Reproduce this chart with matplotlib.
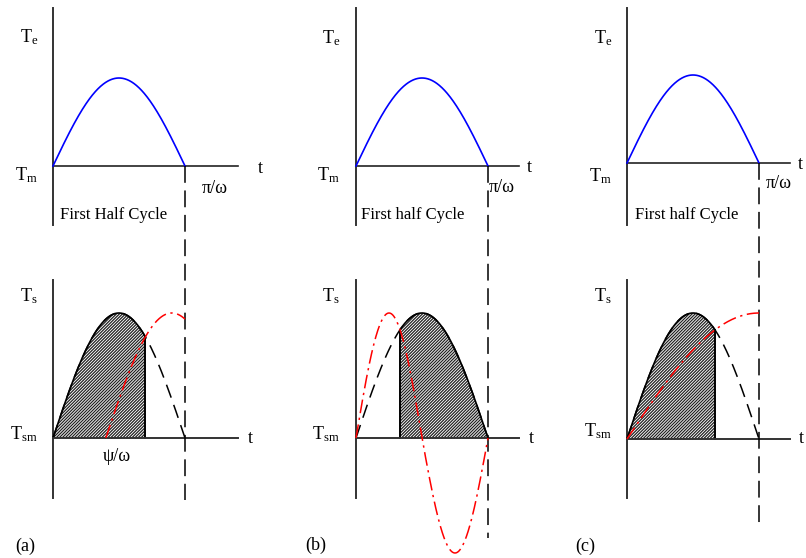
import numpy as np
import matplotlib
matplotlib.use("Agg")
import matplotlib.pyplot as plt
from matplotlib.transforms import Affine2D

plt.rcParams['font.family'] = ['Liberation Serif', 'DejaVu Serif']
plt.rcParams['mathtext.fontset'] = 'custom'
plt.rcParams['mathtext.rm'] = 'Liberation Serif'
plt.rcParams['mathtext.it'] = 'Liberation Serif:italic'
plt.rcParams['hatch.linewidth'] = 0.9

# ---- data (time in units of half-cycles pi/omega, amplitude normalised) ----
panel_labels = ['(a)', '(b)', '(c)']
half_cycle_labels = ['First Half Cycle', 'First half Cycle', 'First half Cycle']
top_y_labels = [r'T$_{\rm e}$', r'T$_{\rm m}$']
bot_y_labels = [r'T$_{\rm s}$', r'T$_{\rm sm}$']
end_label = 'π/ω'
shift_label = 'ψ/ω'
red_freq = [1.0, 2.0, 0.5]        # relative frequency of red curve
red_shift = [0.40, 0.0, 0.0]      # delay of red curve (half-cycles)
red_neg_amp = [1.0, 0.92, 1.0]    # amplitude of negative lobe
shade_from = [0.0, 1/3, 0.0]
shade_to = [0.70, 1.0, 2/3]

# ---- layout (pixels) ----
ox = [53, 356, 627]
top_oy = [166, 166, 163]
bot_oy = [438, 438, 439]
xscale = 132
top_amp = [88, 88, 88]
bot_amp = [125, 125, 126]
haxis_len = [1.40, 1.235, 1.235]
vdash_end = [500, 538, 525]

fig = plt.figure(figsize=(8.06, 5.58), dpi=100)
ax = fig.add_axes([0, 0, 1, 1])
ax.set_xlim(0, 806)
ax.set_ylim(558, 0)
ax.axis('off')

fs = 13
t = np.linspace(0, 1, 400)
for i in range(3):
    Tt = Affine2D().scale(xscale, -top_amp[i]).translate(ox[i], top_oy[i]) + ax.transData
    Tb = Affine2D().scale(xscale, -bot_amp[i]).translate(ox[i], bot_oy[i]) + ax.transData

    # ---- top panel ----
    ax.plot([0, 0], [(top_oy[i] - 8) / top_amp[i], (top_oy[i] - 225) / top_amp[i]],
            color='#333333', lw=1.4, transform=Tt)
    ax.plot([0, haxis_len[i]], [0, 0], color='#222222', lw=1.2, transform=Tt)
    ax.plot(t, np.sin(np.pi * t), color='#0000ff', lw=1.2, transform=Tt)

    # ---- bottom panel ----
    ax.plot([0, 0], [(bot_oy[i] - 280) / bot_amp[i], (bot_oy[i] - 498) / bot_amp[i]],
            color='#333333', lw=1.4, transform=Tb)
    ax.plot([0, haxis_len[i]], [0, 0], color='#333333', lw=1.4, transform=Tb, zorder=4)

    ts = np.linspace(shade_from[i], shade_to[i], 200)
    ax.fill_between(ts, 0, np.sin(np.pi * ts), facecolor='white', edgecolor='#222222',
                    hatch='/' * 11, lw=0, transform=Tb, zorder=2)
    edge_x = shade_from[i] if i == 1 else shade_to[i]
    ax.plot([edge_x] * 2, [0, np.sin(np.pi * edge_x)],
            color='black', lw=1.4, transform=Tb, zorder=3)
    ax.plot(ts, np.sin(np.pi * ts), color='black', lw=1.2, transform=Tb, zorder=3)
    ax.plot(t, np.sin(np.pi * t), color='black', lw=1.1, dashes=(9, 5), transform=Tb, zorder=3)

    tr = np.linspace(red_shift[i], 1, 400)
    yr = np.sin(np.pi * red_freq[i] * (tr - red_shift[i]))
    yr = np.where(yr < 0, yr * red_neg_amp[i], yr)
    ax.plot(tr, yr, color='#ff0000', lw=1.1, dashes=(9, 3, 1.5, 3), transform=Tb, zorder=5)

    # vertical dashed line at pi/omega
    ax.plot([1, 1], [(bot_oy[i] - top_oy[i]) / bot_amp[i], (bot_oy[i] - vdash_end[i]) / bot_amp[i]],
            color='black', lw=1.1, dashes=(11, 5), transform=Tb, zorder=4)

# ---- texts ----
ty_right = [38, 340, 612]
for i in range(3):
    ax.text(ty_right[i], 42 if i == 0 else 43, top_y_labels[0], ha='right', va='baseline', fontsize=fs)
    ax.text(ty_right[i], 180 if i < 2 else 181, top_y_labels[1], ha='right', va='baseline', fontsize=fs)
    ax.text(ty_right[i], 301, bot_y_labels[0], ha='right', va='baseline', fontsize=fs)
    ax.text(ty_right[i], 439 if i < 2 else 436, bot_y_labels[1], ha='right', va='baseline', fontsize=fs)

ax.text(258, 173, 't', fontsize=fs, va='baseline')
ax.text(527, 172, 't', fontsize=fs, va='baseline')
ax.text(798, 169, 't', fontsize=fs, va='baseline')
ax.text(248, 443, 't', fontsize=fs, va='baseline')
ax.text(529, 443, 't', fontsize=fs, va='baseline')
ax.text(799, 443, 't', fontsize=fs, va='baseline')

ax.text(202, 193, end_label, fontsize=fs, va='baseline')
ax.text(489, 192, end_label, fontsize=fs, va='baseline')
ax.text(766, 188, end_label, fontsize=fs, va='baseline')

ax.text(60, 219, half_cycle_labels[0], fontsize=fs - 1, va='baseline')
ax.text(361, 219, half_cycle_labels[1], fontsize=fs - 1, va='baseline')
ax.text(635, 219, half_cycle_labels[2], fontsize=fs - 1, va='baseline')

ax.text(103, 461, shift_label, fontsize=fs, va='baseline')

ax.text(15, 551, panel_labels[0], fontsize=fs, va='baseline')
ax.text(305, 550, panel_labels[1], fontsize=fs, va='baseline')
ax.text(575, 551, panel_labels[2], fontsize=fs, va='baseline')

fig.savefig('out.png', dpi=100)
